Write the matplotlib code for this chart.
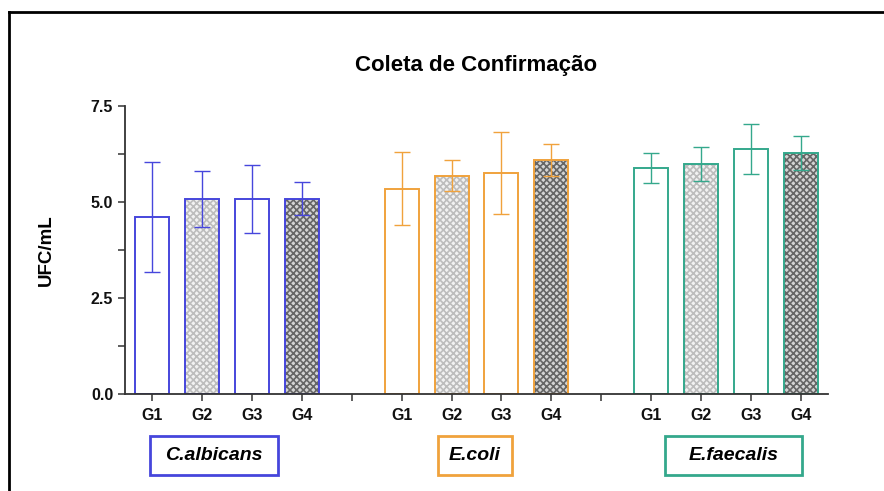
import matplotlib
matplotlib.use('Agg')
import matplotlib.pyplot as plt
from matplotlib.patches import Rectangle
from matplotlib.lines import Line2D

plt.rcParams['font.family'] = ['Liberation Sans', 'DejaVu Sans']
plt.rcParams['font.weight'] = 'bold'
plt.rcParams['hatch.linewidth'] = 1.2

groups = ['C.albicans', 'E.coli', 'E.faecalis']
colors = ['#4646dc', '#f0a23c', '#34a88c']
tick_labels = ['G1', 'G2', 'G3', 'G4']

means = [
    [4.61, 5.08, 5.08, 5.08],
    [5.34, 5.69, 5.76, 6.10],
    [5.88, 5.99, 6.38, 6.28],
]
errors = [
    [1.42, 0.72, 0.89, 0.43],
    [0.95, 0.41, 1.06, 0.42],
    [0.39, 0.44, 0.66, 0.45],
]

# fill styles for G1..G4: (facecolor, hatch colour, hatch)
fills = [('white', 'white', None),
         ('#f2f2f2', '#bdbdbd', 'xxxxx'),
         ('white', 'white', None),
         ('#d4d4d4', '#666666', 'xxxxx')]

W, H = 884, 491
fig = plt.figure(figsize=(W / 100, H / 100), dpi=100)
ax = fig.add_axes([125 / W, 97 / H, 703 / W, 288 / H])

width = 0.68
xpos_all = []
for g, (vals, errs, col) in enumerate(zip(means, errors, colors)):
    xs = [g * 5 + i for i in range(4)]
    xpos_all += xs
    for x, v, (fc, hc, hatch) in zip(xs, vals, fills):
        ax.bar(x, v, width=width, color=fc, edgecolor=hc, hatch=hatch, linewidth=0, zorder=1)
        ax.bar(x, v, width=width, fill=False, edgecolor=col, linewidth=1.4, zorder=2)
    ax.errorbar(xs, vals, yerr=errs, fmt='none', ecolor=col, elinewidth=1.0,
                capsize=6, capthick=1.0, zorder=3)

ax.set_xlim(-0.54, 13.54)
ax.set_ylim(0, 7.5)
ax.set_yticks([0, 2.5, 5.0, 7.5])
ax.set_yticklabels(['0.0', '2.5', '5.0', '7.5'])
ax.set_yticks([1.25, 3.75, 6.25], minor=True)
ax.set_xticks(xpos_all)
ax.set_xticklabels(tick_labels * 3)
ax.set_xticks([4, 9], minor=True)

for s in ['top', 'right']:
    ax.spines[s].set_visible(False)
for s in ['left', 'bottom']:
    ax.spines[s].set_color('#333333')
    ax.spines[s].set_linewidth(1.3)
ax.tick_params(which='both', direction='out', color='#333333', width=1.1, length=5,
               labelsize=11.5, labelcolor='#111111')
ax.tick_params(axis='x', pad=5)

fig.text(46 / W, (97 + 144) / H, 'UFC/mL', rotation=90, ha='center', va='center',
         fontsize=13.5, fontweight='bold')
fig.text(476 / W, 1 - 65 / H, 'Coleta de Confirmação', ha='center', va='center',
         fontsize=16, fontweight='bold')

# group label boxes
boxes = [(150, 278), (438, 512), (665, 802)]
for name, col, (x0, x1) in zip(groups, colors, boxes):
    fig.add_artist(Rectangle((x0 / W, 1 - 475 / H), (x1 - x0) / W, 39 / H,
                             transform=fig.transFigure, fill=False, edgecolor=col, linewidth=2))
    fig.text((x0 + x1) / 2 / W, 1 - 455 / H, name, ha='center', va='center',
             fontsize=14, fontweight='bold', style='italic')

# outer frame (left and top edges)
fig.add_artist(Line2D([9 / W, 9 / W], [0, 1 - 12 / H], transform=fig.transFigure,
                      color='black', linewidth=2))
fig.add_artist(Line2D([9 / W, 1], [1 - 12 / H, 1 - 12 / H], transform=fig.transFigure,
                      color='black', linewidth=2))

fig.savefig('out.png', dpi=100)
